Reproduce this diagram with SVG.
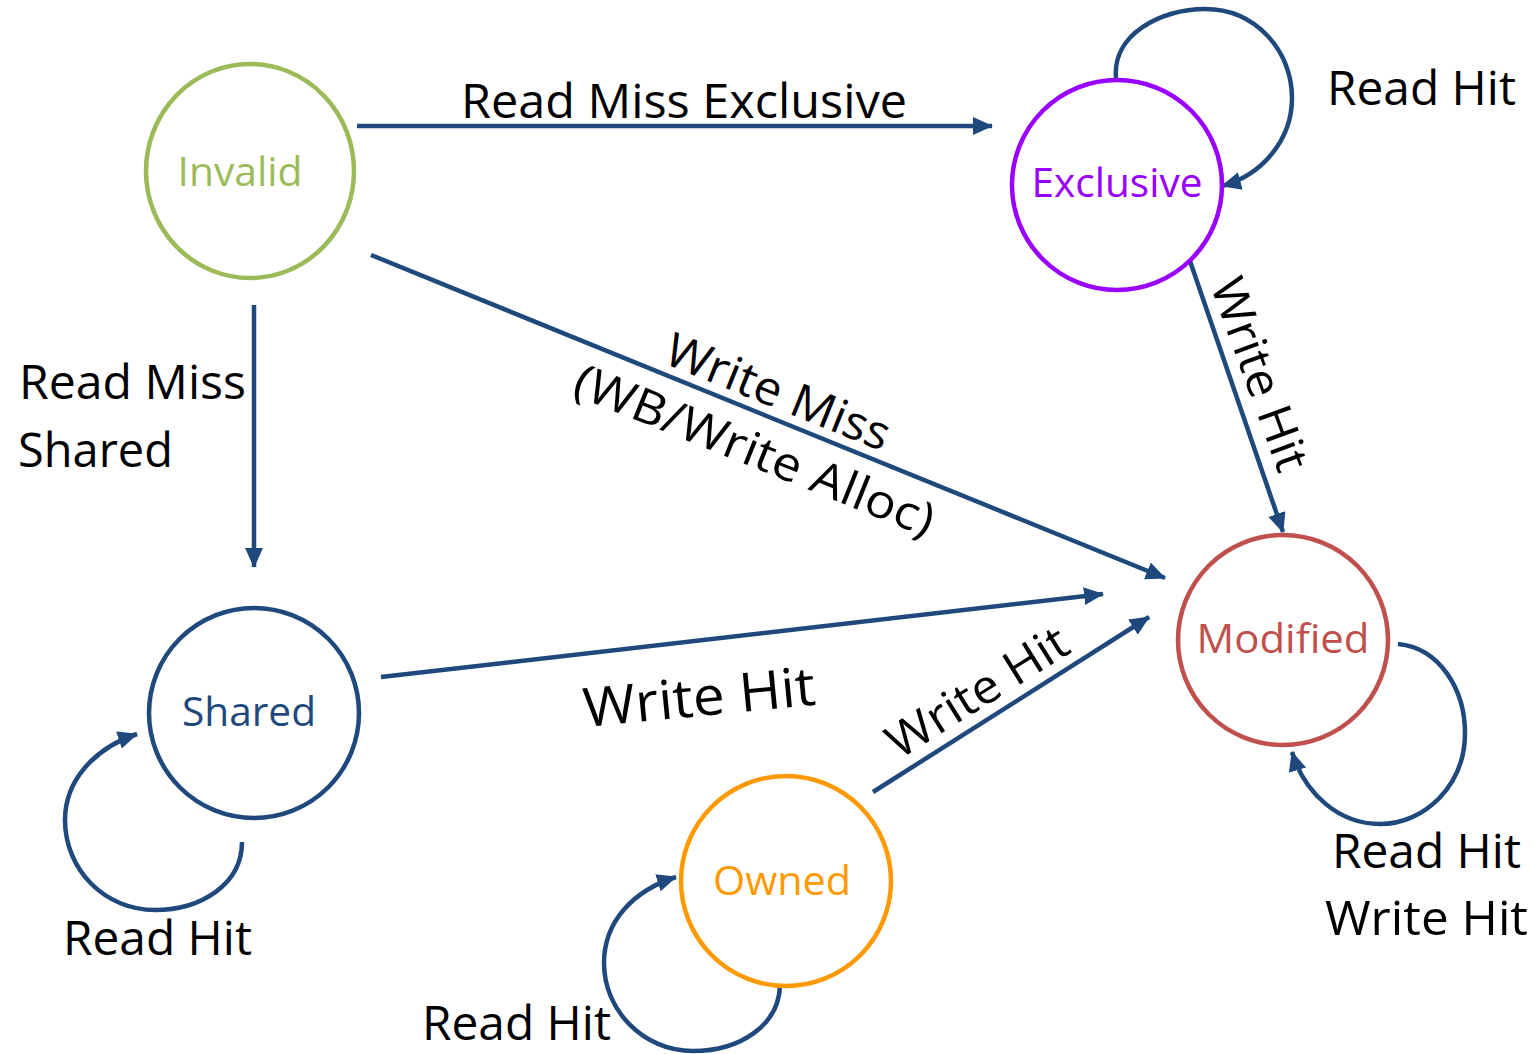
<svg xmlns="http://www.w3.org/2000/svg" width="1537" height="1054" viewBox="0 0 1537 1054">
  <style>
    .node { fill: #ffffff; stroke-width: 4.5; }
    .nlabel { font-family: "Open Sans", "Liberation Sans", sans-serif; font-size: 40px; text-anchor: middle; }
    .label { font-family: "Open Sans", "Liberation Sans", sans-serif; font-size: 47px; fill: #000000; }
    .edge { fill: none; stroke: #1F497D; stroke-width: 4.5; marker-end: url(#arrow); }
  </style>
  <defs>
    <marker id="arrow" markerUnits="userSpaceOnUse" markerWidth="22" markerHeight="20" refX="19" refY="9" orient="auto">
      <path d="M0,0 L20,9 L0,18 Z" fill="#1F497D"/>
    </marker>
  </defs>
  <rect width="1537" height="1054" fill="#ffffff"/>

  <g id="connectors">
    <!-- transitions between states -->
    <line class="edge" x1="357" y1="126" x2="992" y2="126"/>
    <line class="edge" x1="254" y1="305" x2="254" y2="567"/>
    <line class="edge" x1="371" y1="255" x2="1165" y2="578"/>
    <line class="edge" x1="381" y1="677" x2="1103" y2="594"/>
    <line class="edge" x1="873" y1="792" x2="1149" y2="617"/>
    <line class="edge" x1="1190" y1="261" x2="1283" y2="532"/>
    <!-- self loops -->
    <path class="edge" d="M1116,78 C1112,35 1160,9 1205,9 C1255,9 1292,50 1292,98 C1292,140 1262,175 1222,186"/>
    <path class="edge" d="M1398,644 C1440,648 1465,690 1465,733 C1465,785 1425,824 1380,824 C1340,824 1305,795 1292,752"/>
    <path class="edge" d="M242,842 C242,885 200,910 155,910 C105,910 65,870 65,820 C65,780 95,748 137,734"/>
    <path class="edge" d="M780,984 C780,1025 740,1051 693,1051 C643,1051 604,1010 604,963 C604,920 635,890 676,877"/>
  </g>

  <g id="edge-labels">
    <text class="label" x="461" y="118" textLength="446" lengthAdjust="spacingAndGlyphs">Read Miss Exclusive</text>
    <text class="label" x="1327" y="105" textLength="189" lengthAdjust="spacingAndGlyphs">Read Hit</text>
    <text class="label" x="19" y="399" textLength="227" lengthAdjust="spacingAndGlyphs">Read Miss</text>
    <text class="label" x="18" y="467" textLength="155" lengthAdjust="spacingAndGlyphs">Shared</text>
    <g transform="translate(772,407) rotate(22)">
      <text class="label" x="0" y="0" text-anchor="middle" textLength="238" lengthAdjust="spacingAndGlyphs">Write Miss</text>
      <text class="label" x="0" y="63" text-anchor="middle" textLength="384" lengthAdjust="spacingAndGlyphs">(WB/Write Alloc)</text>
    </g>
    <text class="label" transform="translate(1210,285) rotate(70)" x="0" y="0" textLength="202" lengthAdjust="spacingAndGlyphs">Write Hit</text>
    <text class="label" transform="translate(585,727) rotate(-5.5)" x="0" y="0" style="font-size:54px" textLength="233" lengthAdjust="spacingAndGlyphs">Write Hit</text>
    <text class="label" transform="translate(899,760) rotate(-32)" x="0" y="0" textLength="205" lengthAdjust="spacingAndGlyphs">Write Hit</text>
    <text class="label" x="63" y="955" textLength="189" lengthAdjust="spacingAndGlyphs">Read Hit</text>
    <text class="label" x="422" y="1040" textLength="189" lengthAdjust="spacingAndGlyphs">Read Hit</text>
    <text class="label" x="1332" y="868" textLength="189" lengthAdjust="spacingAndGlyphs">Read Hit</text>
    <text class="label" x="1325" y="935" textLength="203" lengthAdjust="spacingAndGlyphs">Write Hit</text>
  </g>

  <g id="invalid">
    <ellipse class="node" cx="250" cy="171" rx="104" ry="107" stroke="#9BBB59"/>
    <text class="nlabel" x="240" y="186" fill="#9BBB59" textLength="125" lengthAdjust="spacingAndGlyphs">Invalid</text>
  </g>
  <g id="exclusive">
    <circle class="node" cx="1117" cy="185" r="105" stroke="#9900FF"/>
    <text class="nlabel" x="1117" y="197" fill="#9900FF" textLength="171" lengthAdjust="spacingAndGlyphs">Exclusive</text>
  </g>
  <g id="modified">
    <circle class="node" cx="1283" cy="640" r="105" stroke="#C0504D"/>
    <text class="nlabel" x="1283" y="653" fill="#C0504D" textLength="173" lengthAdjust="spacingAndGlyphs">Modified</text>
  </g>
  <g id="shared">
    <circle class="node" cx="254" cy="713" r="105" stroke="#1F497D"/>
    <text class="nlabel" x="249" y="726" fill="#1F497D" textLength="134" lengthAdjust="spacingAndGlyphs">Shared</text>
  </g>
  <g id="owned">
    <circle class="node" cx="786" cy="881" r="105" stroke="#FF9900"/>
    <text class="nlabel" x="782" y="895" fill="#FF9900" textLength="138" lengthAdjust="spacingAndGlyphs">Owned</text>
  </g>
</svg>
